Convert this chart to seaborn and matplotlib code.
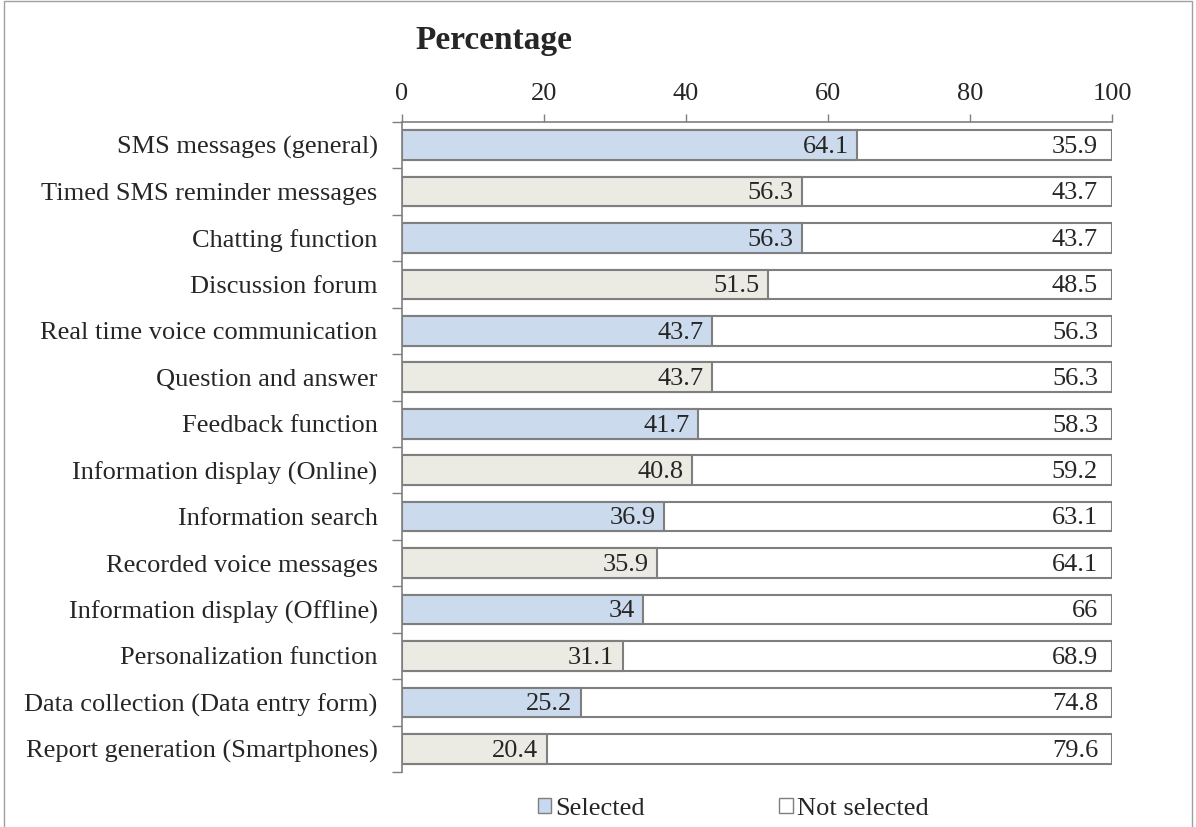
import matplotlib
matplotlib.use("Agg")
import matplotlib.pyplot as plt
from matplotlib.patches import Patch, Rectangle
import pandas as pd
import seaborn as sns

# data
features = [
    "SMS messages (general)",
    "Timed SMS reminder messages",
    "Chatting function",
    "Discussion forum",
    "Real time voice communication",
    "Question and answer",
    "Feedback function",
    "Information display (Online)",
    "Information search",
    "Recorded voice messages",
    "Information display (Offline)",
    "Personalization function",
    "Data collection (Data entry form)",
    "Report generation (Smartphones)",
]
selected = [64.1, 56.3, 56.3, 51.5, 43.7, 43.7, 41.7, 40.8, 36.9, 35.9, 34, 31.1, 25.2, 20.4]
not_selected = [35.9, 43.7, 43.7, 48.5, 56.3, 56.3, 58.3, 59.2, 63.1, 64.1, 66, 68.9, 74.8, 79.6]

df = pd.DataFrame({"Feature": features, "Selected": selected, "Not selected": not_selected})
df["Total"] = df["Selected"] + df["Not selected"]

sns.set_style("white")
plt.rcParams["font.family"] = ["Liberation Serif", "DejaVu Serif"]

blue = "#C6D9F1"
beige = "#EEECE1"
edge = "#7F7F7F"
alt_colors = [blue if i % 2 == 0 else beige for i in range(len(features))]
fs = 19

fig = plt.figure(figsize=(11.96, 8.27), dpi=100)
ax = fig.add_axes([0.336, 0.0665, 0.594, 0.786])

# full bar (white part = not selected), then selected part over it
sns.barplot(data=df, x="Total", y="Feature", color="white", edgecolor=edge,
            linewidth=1.5, width=0.64, orient="h", ax=ax)
sns.barplot(data=df, x="Selected", y="Feature", hue="Feature", palette=alt_colors,
            edgecolor=edge, linewidth=1.5, width=0.64, orient="h", legend=False, ax=ax)

for i, (s, n) in enumerate(zip(selected, not_selected)):
    ax.text(s - 1.2, i + 0.04, f"{s:g}", ha="right", va="center", fontsize=fs)
    ax.text(98, i + 0.04, f"{n:g}", ha="right", va="center", fontsize=fs)

ax.set_xlim(0, 100)
ax.set_ylim(len(features) - 0.5, -0.5)
ax.set_xticks(range(0, 101, 20))
ax.xaxis.tick_top()
ax.tick_params(axis="x", labelsize=fs, length=6, color=edge, width=1, pad=6, direction="out")
ax.tick_params(axis="y", which="major", left=False, labelsize=fs, pad=14)
ax.set_yticks([i - 0.5 for i in range(len(features) + 1)], minor=True)
ax.tick_params(axis="y", which="minor", left=True, length=7, color=edge, width=1)
ax.set_xlabel("")
ax.set_ylabel("")

for side in ["right", "bottom"]:
    ax.spines[side].set_visible(False)
for side in ["top", "left"]:
    ax.spines[side].set_color(edge)
    ax.spines[side].set_linewidth(1.2)

fig.text(0.347, 0.951, "Percentage", fontsize=24, fontweight="bold", ha="left", va="center")

handles = [Patch(facecolor=blue, edgecolor=edge, label="Selected"),
           Patch(facecolor="white", edgecolor=edge, label="Not selected")]
fig.legend(handles=handles, loc="center", bbox_to_anchor=(0.613, 0.022), ncol=2,
           frameon=False, fontsize=fs, handlelength=0.5, handleheight=0.5,
           handletextpad=0.15, columnspacing=5.1)

# outer frame of the figure
fig.patches.append(Rectangle((0.003, -0.05), 0.994, 1.049, transform=fig.transFigure,
                             fill=False, edgecolor="#A0A0A0", linewidth=1))

fig.savefig("out.png", dpi=100)
